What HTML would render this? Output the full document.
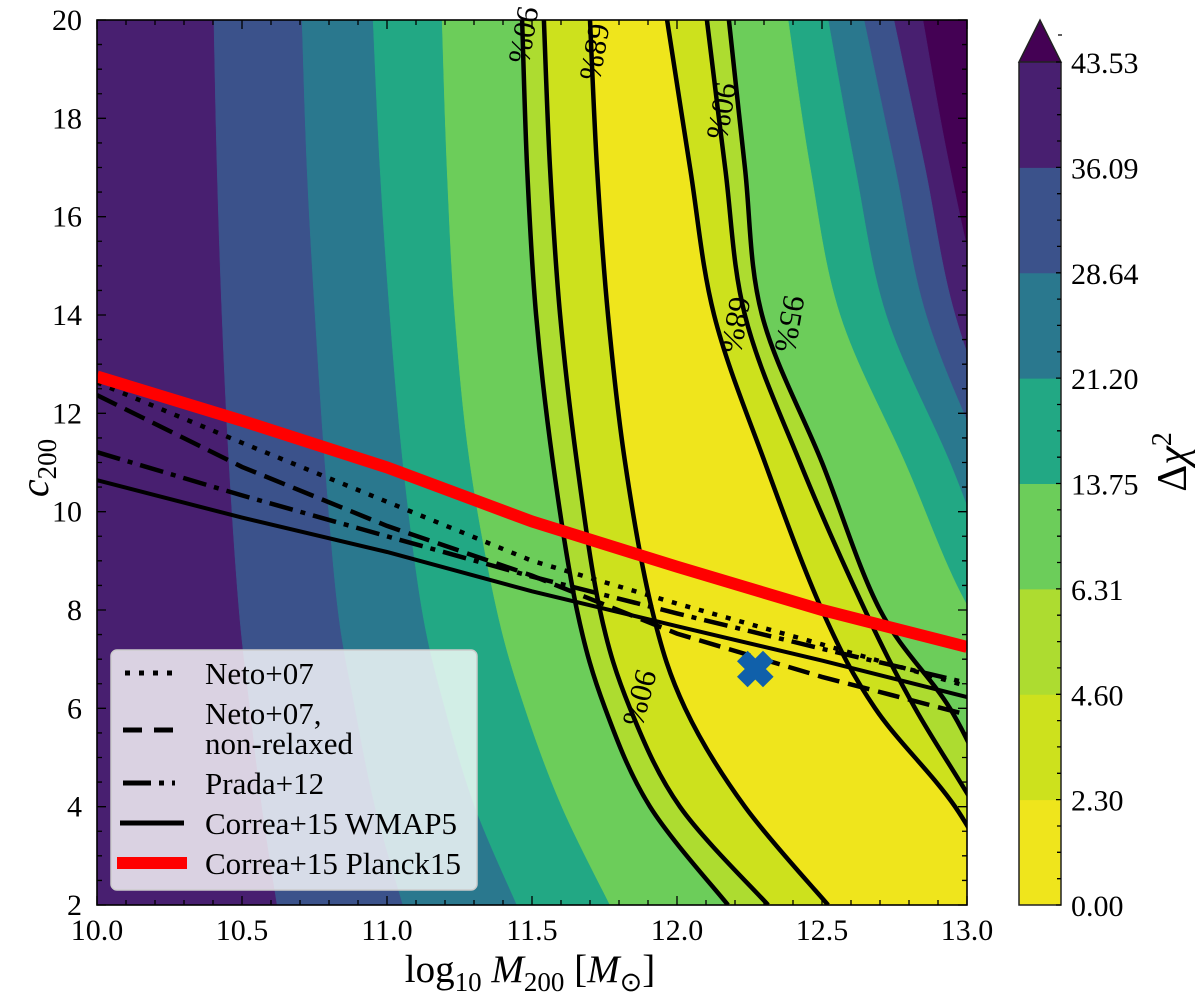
<!DOCTYPE html>
<html><head><meta charset="utf-8"><style>
html,body{margin:0;padding:0;background:#fff;}
svg{display:block;font-family:"Liberation Serif",serif;}
</style></head><body>
<svg id="chart" width="1200" height="1004" viewBox="0 0 1200 1004" xmlns="http://www.w3.org/2000/svg">
<defs><clipPath id="plotclip"><rect x="97" y="20" width="870" height="885"/></clipPath></defs>
<g id="bands" clip-path="url(#plotclip)"></g>
<g id="clines" clip-path="url(#plotclip)"></g>
<g id="models" clip-path="url(#plotclip)"></g>
<g id="clabels"></g>
<g id="axes"></g>
<g id="legend"></g>
<g id="cbar"></g>
</svg>
<script>
// ---- data ----
const cGrid = [20, 17, 14, 11, 8, 6, 4, 2];
const levels = [43.53, 36.09, 28.64, 21.20, 13.75, 6.31, 4.60, 2.30];
const bandColors = ["#481f70", "#3b528b", "#2a788e", "#22a884", "#6ccd5a", "#addc30", "#cde11d", "#efe51c"];
const overColor = "#440154";
const leftB43 = [9, 9, 9, 9, 9, 9, 9, 9];
const leftB36 = [10.403, 10.414, 10.431, 10.455, 10.490, 10.528, 10.569, 10.621];
const leftB28 = [10.707, 10.724, 10.752, 10.786, 10.831, 10.890, 10.959, 11.055];
const leftB21 = [10.952, 10.976, 11.010, 11.055, 11.121, 11.200, 11.303, 11.448];
const leftB13 = [11.190, 11.207, 11.234, 11.286, 11.379, 11.476, 11.603, 11.769];
const leftB6 = [11.466, 11.483, 11.514, 11.572, 11.655, 11.752, 11.907, 12.176];
const leftB4 = [11.541, 11.562, 11.597, 11.655, 11.734, 11.838, 12.010, 12.314];
const leftB2 = [11.700, 11.724, 11.762, 11.821, 11.914, 12.028, 12.234, 12.521];
const rightB43 = [12.848, 12.941, 13.062, 13.252, 13.459, 13.631, 13.803, 13.976];
const rightB36 = [12.748, 12.855, 12.959, 13.148, 13.390, 13.562, 13.734, 13.907];
const rightB28 = [12.645, 12.752, 12.859, 13.062, 13.286, 13.459, 13.631, 13.803];
const rightB21 = [12.521, 12.614, 12.721, 12.941, 13.148, 13.390, 13.562, 13.734];
const rightB13 = [12.383, 12.459, 12.562, 12.786, 13.010, 13.286, 13.459, 13.631];
const rightB6 = [12.179, 12.234, 12.293, 12.500, 12.700, 12.941, 13.114, 13.321];
const rightB4 = [12.103, 12.166, 12.234, 12.424, 12.648, 12.821, 13.028, 13.217];
const rightB2 = [11.966, 12.045, 12.128, 12.303, 12.500, 12.683, 12.959, 13.148];
const leftBounds = [leftB43, leftB36, leftB28, leftB21, leftB13, leftB6, leftB4, leftB2];
const rightBounds = [rightB43, rightB36, rightB28, rightB21, rightB13, rightB6, rightB4, rightB2];

const massGrid = [10.0, 10.5, 11.0, 11.5, 12.0, 12.5, 13.0];
const netoC = [12.63, 11.40, 10.20, 9.00, 8.13, 7.30, 6.45];
const netoNRC = [12.37, 10.91, 9.71, 8.70, 7.52, 6.64, 5.87];
const pradaC = [11.21, 10.33, 9.50, 8.68, 7.93, 7.21, 6.52];
const wmap5C = [10.64, 9.88, 9.18, 8.38, 7.67, 6.97, 6.23];
const planckC = [12.75, 11.85, 10.90, 9.80, 8.88, 8.00, 7.25];
const bestFit = [12.27, 6.8];

const xTicks = [10.0, 10.5, 11.0, 11.5, 12.0, 12.5, 13.0];
const xTickLabels = ["10.0", "10.5", "11.0", "11.5", "12.0", "12.5", "13.0"];
const yTicks = [2, 4, 6, 8, 10, 12, 14, 16, 18, 20];
const cbarTickLabels = ["0.00", "2.30", "4.60", "6.31", "13.75", "21.20", "28.64", "36.09", "43.53"];

// ---- scales ----
const X = m => 97 + (m - 10) * 290;
const Y = c => 20 + (20 - c) * (885 / 18);
const NS = "http://www.w3.org/2000/svg";
function mk(tag, attrs, parent) {
  const e = document.createElementNS(NS, tag);
  for (const k in attrs) e.setAttribute(k, attrs[k]);
  parent.appendChild(e);
  return e;
}
function pathFrom(xs, ys) {
  return xs.map((v, i) => (i ? "L" : "M") + X(v).toFixed(1) + "," + Y(ys[i]).toFixed(1)).join(" ");
}
function smoothSeg(p, start) {
  let d = start ? "M" + p[0][0].toFixed(1) + "," + p[0][1].toFixed(1) : " L" + p[0][0].toFixed(1) + "," + p[0][1].toFixed(1);
  for (let i = 0; i < p.length - 1; i++) {
    const p0 = p[Math.max(0, i - 1)], p1 = p[i], p2 = p[i + 1], p3 = p[Math.min(p.length - 1, i + 2)];
    const c1 = [p1[0] + (p2[0] - p0[0]) / 6, p1[1] + (p2[1] - p0[1]) / 6];
    const c2 = [p2[0] - (p3[0] - p1[0]) / 6, p2[1] - (p3[1] - p1[1]) / 6];
    d += " C" + c1.map(v => v.toFixed(1)).join(",") + " " + c2.map(v => v.toFixed(1)).join(",") + " " + p2.map(v => v.toFixed(1)).join(",");
  }
  return d;
}
function smoothPath(xs, ys) {
  return smoothSeg(xs.map((v, i) => [X(v), Y(ys[i])]), true);
}

// ---- bands ----
const bands = document.getElementById("bands");
const bg = mk("rect", {x: 97, y: 20, width: 870, height: 885, fill: overColor}, bands);


levels.forEach((lv, i) => {
  const L = leftBounds[i], R = rightBounds[i];
  const lp = L.map((v, k) => [X(v), Y(cGrid[k])]);
  const rp = R.map((v, k) => [X(v), Y(cGrid[k])]).reverse();
  let d = "M" + lp[0][0].toFixed(1) + ",0 " + smoothSeg(lp, false) + " L" + lp[lp.length-1][0].toFixed(1) + ",960";
  d += " L" + rp[0][0].toFixed(1) + ",960" + smoothSeg(rp, false) + " L" + rp[rp.length-1][0].toFixed(1) + ",0 Z";
  const el = mk("path", {d: d, fill: bandColors[i], stroke: bandColors[i], "stroke-width": 0.5}, bands);
  
  
});

// ---- contour lines ----
const cl = document.getElementById("clines");
[leftB6, leftB4, leftB2, rightB2, rightB4, rightB6].forEach((arr, i) => {
  const el = mk("path", {d: smoothPath(arr, cGrid), fill: "none", stroke: "#000", "stroke-width": 4.5}, cl);
  
  
});

// ---- model lines ----
const mg = document.getElementById("models");
const models = [
  [netoC, "#000", 4.5, "5 9", "neto07-line"],
  [netoNRC, "#000", 4.5, "22 9", "neto07-nonrelaxed-line"],
  [pradaC, "#000", 4.5, "24 8 5 8", "prada12-line"],
  [wmap5C, "#000", 4, "", "correa15-wmap5-line"],
  [planckC, "#ff0000", 12, "", "correa15-planck15-line"]
];
models.forEach(m => {
  const el = mk("path", {d: pathFrom(massGrid, m[0]), fill: "none", stroke: m[1], "stroke-width": m[2], "stroke-dasharray": m[3]}, mg);
  
  
});
const bx = X(bestFit[0]), by = Y(bestFit[1]);
const mark = mk("path", {d: `M${bx-13},${by-13} L${bx+13},${by+13} M${bx-13},${by+13} L${bx+13},${by-13}`, stroke: "#1060aa", "stroke-width": 15, fill: "none"}, mg);



// ---- contour labels ----
const clab = document.getElementById("clabels");
[["90%", 524, 35, 100, "#c3df25"], ["68%", 595, 52, 100, "#cde11d"], ["90%", 722, 111, 100, "#cde11d"], ["68%", 736, 325, 100, "#cde11d"], ["95%", 790, 324, 100, "#8fd445"], ["90%", 640, 698, 105, "#cde11d"]].forEach((t, i) => {
  const el = mk("text", {x: t[1], y: t[2], "font-size": 31, "text-anchor": "middle", "dominant-baseline": "central", transform: `rotate(${t[3]} ${t[1]} ${t[2]})`}, clab);
  el.textContent = t[0];
  
  
});

// ---- axes ----
const ax = document.getElementById("axes");
const frame = mk("rect", {x: 97, y: 20, width: 870, height: 885, fill: "none", stroke: "#000", "stroke-width": 1.6}, ax);


let tk = "";
for (let i = 0; i <= 30; i++) {
  const x = X(10 + i * 0.1), len = i % 5 === 0 ? 9 : 5;
  tk += `M${x},905 v${-len} M${x},20 v${len} `;
}
for (let i = 0; i <= 36; i++) {
  const y = Y(2 + i * 0.5), len = i % 4 === 0 ? 9 : 5;
  tk += `M97,${y} h${len} M967,${y} h${-len} `;
}
const ticks = mk("path", {d: tk, stroke: "#000", "stroke-width": 1.3, fill: "none"}, ax);


xTicks.forEach((v, i) => {
  const el = mk("text", {x: X(v), y: 940, "font-size": 30, "text-anchor": "middle"}, ax);
  el.textContent = xTickLabels[i];
  
  
});
yTicks.forEach(v => {
  const el = mk("text", {x: 82, y: Y(v) + 10, "font-size": 30, "text-anchor": "end"}, ax);
  el.textContent = String(v);
  
  
});
</script>
<script>
(function(){
const NS = "http://www.w3.org/2000/svg";
const ax = document.getElementById("axes");
const xl = document.createElementNS(NS, "text");
xl.setAttribute("x", 530); xl.setAttribute("y", 982); xl.setAttribute("font-size", 39); xl.setAttribute("text-anchor", "middle");
xl.innerHTML = 'log<tspan font-size="27" dy="9">10</tspan><tspan dy="-9" font-style="italic"> M</tspan><tspan font-size="27" dy="9">200</tspan><tspan dy="-9">  [</tspan><tspan font-style="italic">M</tspan><tspan font-size="27" dy="9">⊙</tspan><tspan dy="-9">]</tspan>';
ax.appendChild(xl);


const yl = document.createElementNS(NS, "text");
yl.setAttribute("transform", "translate(48,468) rotate(-90)"); yl.setAttribute("font-size", 40); yl.setAttribute("text-anchor", "middle");
yl.innerHTML = '<tspan font-style="italic">c</tspan><tspan font-size="27" dy="8">200</tspan>';
ax.appendChild(yl);



// legend
const lg = document.getElementById("legend");
function add(tag, attrs){ const e=document.createElementNS(NS,tag); for(const k in attrs) e.setAttribute(k,attrs[k]); lg.appendChild(e); return e; }
const box = add("rect", {x:111, y:650, width:366, height:240, rx:6, fill:"#ffffff", "fill-opacity":0.8, stroke:"#cccccc", "stroke-width":1.5});


const entries = [
  ["Neto+07", 673, "#000", 5, "5 9", 125, 175, 673],
  ["Neto+07,", 713, "#000", 5, "19 12", 123, 177, 730],
  ["Prada+12", 783, "#000", 5, "28 8 5 8", 123, 175, 783],
  ["Correa+15 WMAP5", 823, "#000", 5, "", 120, 184, 823],
  ["Correa+15 Planck15", 863, "#ff0000", 12, "", 117, 187, 863]
];
entries.forEach(e => {
  const ln = add("line", {x1:e[5], x2:e[6], y1:e[7], y2:e[7], stroke:e[2], "stroke-width":e[3], "stroke-dasharray":e[4]});
  
  
  const t = add("text", {x:205, y:e[1]+11, "font-size":31});
  t.textContent = e[0];
  
  
});
const t2 = add("text", {x:205, y:754, "font-size":31});
t2.textContent = "non-relaxed";



// colorbar
const cb = document.getElementById("cbar");
function addc(tag, attrs){ const e=document.createElementNS(NS,tag); for(const k in attrs) e.setAttribute(k,attrs[k]); cb.appendChild(e); return e; }
const cols = ["#efe51c", "#cde11d", "#addc30", "#6ccd5a", "#22a884", "#2a788e", "#3b528b", "#481f70"];
const labs = ["0.00", "2.30", "4.60", "6.31", "13.75", "21.20", "28.64", "36.09", "43.53"];
const top = 62, bot = 905, h = (bot - top) / 8;
cols.forEach((c, i) => {
  const r = addc("rect", {x:1019, y:bot - (i+1)*h, width:42, height:h+0.5, fill:c});
  
  
});
const tri = addc("path", {d:"M1019,62 L1040,20 L1061,62 Z", fill:"#440154", stroke:"#222", "stroke-width":1.5});


const cfr = addc("path", {d:"M1019,62 V905 H1061 V62", fill:"none", stroke:"#222", "stroke-width":1.5});


let d = "M1058,35 h4 ";
for (let i = 0; i <= 32; i++) { const y = bot - i*h/4; d += `M1061,${y.toFixed(1)} h${i%4===0?-5:-4} `; }
const ct = addc("path", {d:d, stroke:"#000", "stroke-width":1.3});


labs.forEach((l, i) => {
  const t = addc("text", {x:1071, y:bot - i*h + 11, "font-size":30});
  t.textContent = l;
  
  
});
const cl = addc("text", {transform:"translate(1186,462) rotate(-90)", "font-size":42, "text-anchor":"middle"});
cl.innerHTML = 'Δ<tspan font-style="italic">χ</tspan><tspan font-size="28" dy="-15">2</tspan>';


})();
</script>
</body></html>
